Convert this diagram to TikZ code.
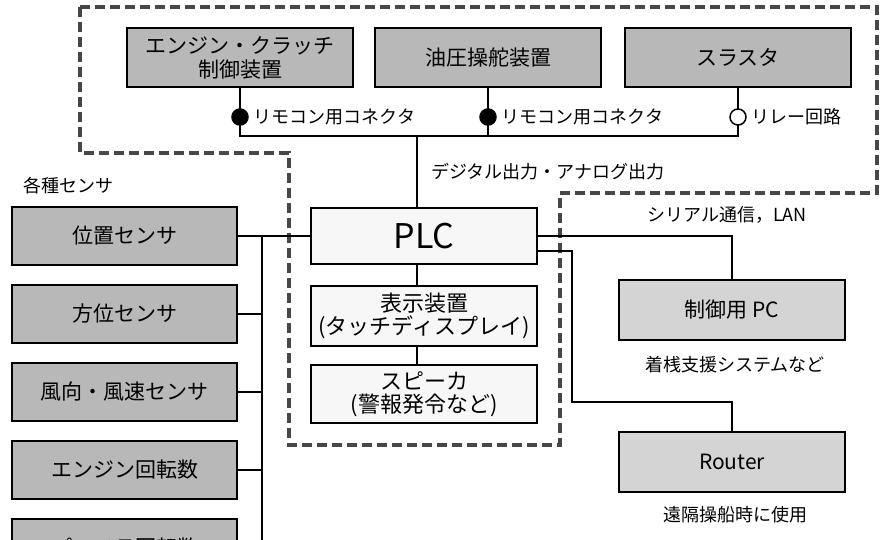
\documentclass[tikz,border=0pt]{standalone}
\usepackage{fontspec}
\setmainfont{Noto Sans CJK JP}
\usetikzlibrary{positioning}
\definecolor{boxgray}{gray}{0.72}
\definecolor{pcgray}{gray}{0.83}
\definecolor{devgray}{gray}{0.97}
\begin{document}
\begin{tikzpicture}[x=1pt, y=1pt,
  node distance=18pt,
  box/.style={draw, line width=1.9pt, fill=boxgray, minimum width=226pt,
    minimum height=59pt, align=center, font=\fontsize{21}{24}\selectfont},
  sens/.style={box, minimum width=225pt, minimum height=58pt},
  pcbox/.style={box, fill=pcgray, minimum height=60pt},
  dev/.style={box, fill=devgray, font=\fontsize{22}{23}\selectfont},
  lbl/.style={font=\fontsize{18}{21}\selectfont, inner sep=1pt},
  wire/.style={line width=1.6pt},
  zone/.style={line width=3.6pt, black!72, dash pattern=on 10pt off 5pt},
  plug/.style={circle, draw, line width=1.5pt, fill=black, minimum size=16pt, inner sep=0pt},
  relay/.style={plug, fill=white},
]
\useasboundingbox (0,0) rectangle (882,-539);
\clip (0,0) rectangle (882,-539);

% dashed outline
\draw[zone] (80,-7) -- (877,-7) -- (877,-193) -- (560,-193) -- (560,-445)
  -- (289,-445) -- (289,-153) -- (80,-153) -- cycle;

% actuators
\node[box] (eng) at (240,-57.5) {エンジン・クラッチ\\制御装置};
\node[box] (hyd) at (488,-57.5) {油圧操舵装置};
\node[box] (thr) at (738,-57.5) {スラスタ};

% controller
\node[dev, font=\fontsize{34}{38}\selectfont, minimum height=56pt] (plc) at (424,-236) {PLC};
\node[dev, below=20pt of plc, minimum height=60pt] (disp) {表示装置\\(タッチディスプレイ)};
\node[dev, below=17pt of disp, minimum height=58pt] (spk) {スピーカ\\(警報発令など)};

% sensors
\node[sens] (pos) at (124.5,-236) {位置センサ};
\node[sens, below=of pos] (dir) {方位センサ};
\node[sens, below=of dir] (wind) {風向・風速センサ};
\node[sens, below=of wind] (erpm) {エンジン回転数};
\node[sens, below=of erpm] (prpm) {プロペラ回転数};
\node[lbl] (senslbl) at (68,-186) {各種センサ};

% pc side
\node[pcbox] (pc) at (732,-310) {制御用 PC};
\node[pcbox] (rtr) at (732,-462) {Router};
\node[lbl] (serial) at (727,-215) {シリアル通信，LAN};
\node[lbl] (berth) at (735,-365) {着桟支援システムなど};
\node[lbl] (remote) at (735,-515) {遠隔操船時に使用};

% wiring
\coordinate (bus) at (0,-136);
\coordinate (trunk) at (417,-136);
\coordinate (plugrow) at (0,-117);
\coordinate (sbus) at (262,0);
\coordinate (rbus) at (572,-402);
\draw[wire] (eng.south) |- (thr.south |- bus) -- (thr.south);
\draw[wire] (hyd.south) -- (hyd.south |- bus);
\draw[wire] (trunk) -- (trunk |- plc.north);
\draw[wire] (trunk |- plc.south) -- (trunk |- disp.north);
\draw[wire] (trunk |- disp.south) -- (trunk |- spk.north);
\node[lbl, anchor=west] (dout) at (430,-172) {デジタル出力・アナログ出力};

\node[plug] (pl1) at (eng.south |- plugrow) {};
\node[plug] (pl2) at (hyd.south |- plugrow) {};
\node[relay] (rl) at (thr.south |- plugrow) {};
\node[lbl, right=4pt of pl1] {リモコン用コネクタ};
\node[lbl, right=4pt of pl2] {リモコン用コネクタ};
\node[lbl, right=4pt of rl] {リレー回路};

\draw[wire] (pos) -- (plc);
\draw[wire] (pos.east -| sbus) -- (prpm.east -| sbus);
\foreach \s in {dir,wind,erpm,prpm}
  \draw[wire] (\s.east) -- (\s.east -| sbus);

\draw[wire] (plc.east) -| (pc.north);
\draw[wire] ([yshift=-15pt]plc.east) -| (rbus) -| (rtr.north);
\end{tikzpicture}
\end{document}
